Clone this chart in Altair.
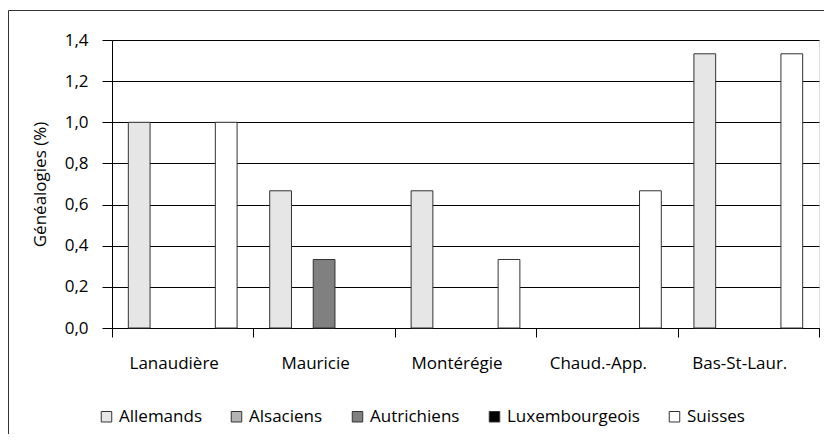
import altair as alt
import pandas as pd

regions = ["Lanaudière", "Mauricie", "Montérégie", "Chaud.-App.", "Bas-St-Laur."]
series = ["Allemands", "Alsaciens", "Autrichiens", "Luxembourgeois", "Suisses"]
colors = ["#e6e6e6", "#b3b3b3", "#808080", "#000000", "#ffffff"]

allemands = [1.0, 0.667, 0.667, 0.0, 1.333]
alsaciens = [0.0, 0.0, 0.0, 0.0, 0.0]
autrichiens = [0.0, 0.333, 0.0, 0.0, 0.0]
luxembourgeois = [0.0, 0.0, 0.0, 0.0, 0.0]
suisses = [1.0, 0.0, 0.333, 0.667, 1.333]

y_ticks = [0.0, 0.2, 0.4, 0.6, 0.8, 1.0, 1.2, 1.4]

values = [allemands, alsaciens, autrichiens, luxembourgeois, suisses]
rows = []
for s, vals in zip(series, values):
    for r, v in zip(regions, vals):
        if v > 0:
            rows.append({"Région": r, "Origine": s, "Valeur": v})
df = pd.DataFrame(rows)

FONT = "Open Sans"
FS = 17
W, H = 707, 288

bars = alt.Chart(df).mark_bar(stroke="#333333", strokeWidth=1).encode(
    x=alt.X("Région:N", sort=regions,
            scale=alt.Scale(domain=regions, paddingInner=0, paddingOuter=0),
            axis=alt.Axis(title=None, tickBand="extent", tickSize=9, tickColor="#000",
                          domainColor="#000", labelAngle=0, labelFontSize=FS,
                          labelColor="#000", labelPadding=18, labelFont=FONT,
                          labelOffset=-9, grid=False)),
    xOffset=alt.XOffset("Origine:N", sort=series,
                        scale=alt.Scale(domain=series, paddingInner=0, paddingOuter=0.75)),
    y=alt.Y("Valeur:Q",
            scale=alt.Scale(domain=[0, 1.4], nice=False),
            axis=alt.Axis(title="Généalogies (%)", values=y_ticks,
                          labelExpr="replace(format(datum.value, '.1f'), '.', ',')",
                          tickSize=10, tickColor="#000", domainColor="#000",
                          gridColor="#000", gridWidth=1, grid=True,
                          labelFontSize=FS, labelColor="#000", labelPadding=14,
                          labelFont=FONT, titleFont=FONT, titleFontSize=FS,
                          titleFontWeight="normal", titleColor="#000",
                          titlePadding=15)),
    fill=alt.Fill("Origine:N", sort=series,
                  scale=alt.Scale(domain=series, range=colors),
                  legend=alt.Legend(title=None, orient="none", direction="horizontal",
                                    legendX=-14, legendY=368,
                                    symbolType="square", symbolSize=110,
                                    symbolStrokeColor="#333333", symbolStrokeWidth=1,
                                    labelFontSize=FS, labelFont=FONT, labelColor="#000",
                                    labelOffset=4, columnPadding=26)),
)

frame_df = pd.DataFrame({"k": [0]})
left_line = alt.Chart(frame_df).mark_rule(color="#333333", strokeWidth=1).encode(
    x=alt.value(-103.5), y=alt.value(-29.5), y2=alt.value(H + 110)
)
top_line = alt.Chart(frame_df).mark_rule(color="#333333", strokeWidth=1).encode(
    x=alt.value(-103.5), x2=alt.value(W + 5), y=alt.value(-29.5)
)

chart = alt.layer(bars, left_line, top_line).properties(
    width=W, height=H,
    autosize=alt.AutoSizeParams(type="none"),
    padding={"left": 104, "top": 32, "right": 5, "bottom": 106},
).configure_view(stroke=None).configure(font=FONT)

chart.save("out.html", embed_options={"renderer": "svg", "actions": False})
